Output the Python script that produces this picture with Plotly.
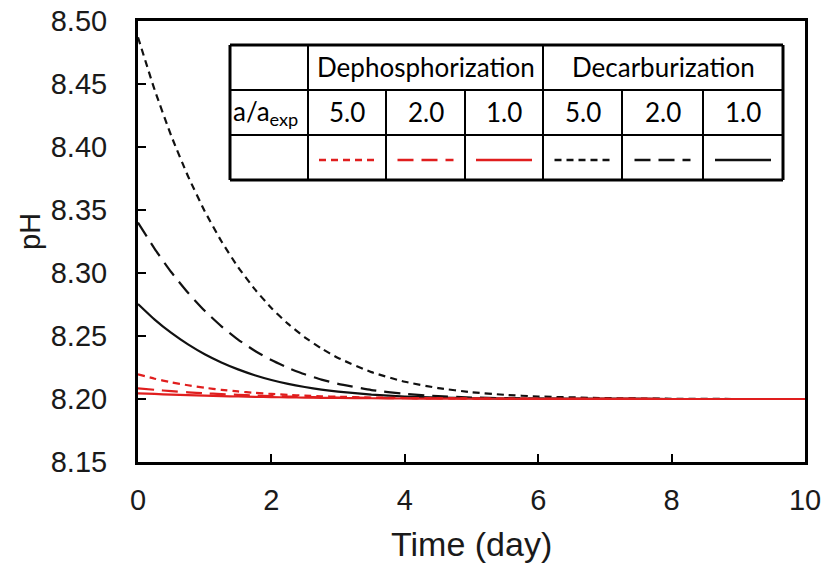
import plotly.graph_objects as go

# ---------------- data ----------------
time_day = [0, 0.25, 0.5, 0.75, 1, 1.25, 1.5, 1.75, 2, 2.25, 2.5, 2.75, 3,
            3.5, 4, 4.5, 5, 5.5, 6, 7, 8, 9, 10]

decarb_5 = [8.4871, 8.4453, 8.4087, 8.3768, 8.3491, 8.3252, 8.3047, 8.2872, 8.2722, 8.2596, 8.2490, 8.2401,
            8.2326, 8.2213, 8.2137, 8.2087, 8.2054, 8.2033, 8.2020, 8.2007, 8.2002, 8.2000, 8.2000]
decarb_2 = [8.3400, 8.3192, 8.3006, 8.2843, 8.2700, 8.2577, 8.2472, 8.2383, 8.2309, 8.2247, 8.2196, 8.2154,
            8.2120, 8.2071, 8.2041, 8.2023, 8.2012, 8.2007, 8.2003, 8.2001, 8.2000, 8.2000, 8.2000]
decarb_1 = [8.2754, 8.2630, 8.2524, 8.2433, 8.2355, 8.2290, 8.2235, 8.2189, 8.2151, 8.2120, 8.2095, 8.2074,
            8.2058, 8.2035, 8.2020, 8.2011, 8.2006, 8.2003, 8.2002, 8.2001, 8.2000, 8.2000, 8.2000]
dephos_5 = [8.2196, 8.2161, 8.2132, 8.2109, 8.2089, 8.2073, 8.2060, 8.2049, 8.2040, 8.2033, 8.2027, 8.2022,
            8.2018, 8.2012, 8.2008, 8.2006, 8.2004, 8.2003, 8.2002, 8.2001, 8.2000, 8.2000, 8.2000]
dephos_2 = [8.2085, 8.2073, 8.2062, 8.2053, 8.2045, 8.2039, 8.2033, 8.2028, 8.2024, 8.2020, 8.2017, 8.2014,
            8.2012, 8.2009, 8.2006, 8.2005, 8.2003, 8.2002, 8.2002, 8.2001, 8.2000, 8.2000, 8.2000]
dephos_1 = [8.2045, 8.2040, 8.2035, 8.2031, 8.2027, 8.2023, 8.2020, 8.2017, 8.2015, 8.2013, 8.2011, 8.2009,
            8.2008, 8.2006, 8.2004, 8.2003, 8.2002, 8.2002, 8.2001, 8.2001, 8.2000, 8.2000, 8.2000]

x_ticks = [0, 2, 4, 6, 8, 10]
y_ticks = [8.15, 8.20, 8.25, 8.30, 8.35, 8.40, 8.45, 8.50]
y_tick_labels = ["8.15", "8.20", "8.25", "8.30", "8.35", "8.40", "8.45", "8.50"]

group_labels = ["Dephosphorization", "Decarburization"]
ratio_header = "a/a<sub>exp</sub>"
ratio_labels = ["5.0", "2.0", "1.0", "5.0", "2.0", "1.0"]

# ---------------- styles ----------------
RED = "#e01e1e"
BLACK = "#111111"
SHORT = "7px,5px"
LONG = "16px,8px"

W, H = 827, 569
# plot area in page pixels
L, R, T, B = 138, 805, 21, 462

fig = go.Figure()

series = [
    (decarb_5, BLACK, SHORT),
    (decarb_2, BLACK, LONG),
    (decarb_1, BLACK, "solid"),
    (dephos_5, RED, SHORT),
    (dephos_2, RED, LONG),
    (dephos_1, RED, "solid"),
]
for ys, col, dash in series:
    fig.add_trace(go.Scatter(x=time_day, y=ys, mode="lines",
                             line=dict(color=col, width=2.2, dash=dash, shape="spline", smoothing=0.5),
                             showlegend=False, hoverinfo="skip"))


def px(xp):
    return (xp - L) / (R - L)


def py(yp):
    return (B - yp) / (B - T)


shapes = []
cols = [230, 308, 386, 465, 543, 622, 703, 783]
rows = [45, 90, 135, 180]
shapes.append(dict(type="rect", xref="paper", yref="paper", x0=px(cols[0]), x1=px(cols[-1]),
                   y0=py(rows[-1]), y1=py(rows[0]), fillcolor="white", line=dict(width=0), layer="above"))
for i, yv in enumerate(rows):
    w = 3 if i in (0, len(rows) - 1) else 2
    shapes.append(dict(type="line", xref="paper", yref="paper", x0=px(cols[0]), x1=px(cols[-1]),
                       y0=py(yv), y1=py(yv), line=dict(color="black", width=w), layer="above"))
for i, xv in enumerate(cols):
    w = 3 if i in (0, len(cols) - 1) else 2
    y_top = rows[0] if i in (0, 1, 4, 7) else rows[1]
    shapes.append(dict(type="line", xref="paper", yref="paper", x0=px(xv), x1=px(xv),
                       y0=py(rows[-1]), y1=py(y_top), line=dict(color="black", width=w), layer="above"))
sample_y = 160
sample_styles = [(RED, SHORT), (RED, LONG), (RED, "solid"), (BLACK, SHORT), (BLACK, LONG), (BLACK, "solid")]
for j, (col, dash) in enumerate(sample_styles):
    c0, c1 = cols[j + 1], cols[j + 2]
    mid = (c0 + c1) / 2
    shapes.append(dict(type="line", xref="paper", yref="paper", x0=px(mid - 28), x1=px(mid + 28),
                       y0=py(sample_y), y1=py(sample_y), line=dict(color=col, width=2.5, dash=dash),
                       layer="above"))

annotations = []
TFONT = dict(family="Lato, Open Sans, sans-serif", size=26, color="black")
annotations.append(dict(xref="paper", yref="paper", x=px((cols[1] + cols[4]) / 2), y=py(67),
                        text=group_labels[0], showarrow=False, font=TFONT, xanchor="center", yanchor="middle"))
annotations.append(dict(xref="paper", yref="paper", x=px((cols[4] + cols[7]) / 2), y=py(67),
                        text=group_labels[1], showarrow=False, font=TFONT, xanchor="center", yanchor="middle"))
annotations.append(dict(xref="paper", yref="paper", x=px(cols[0] + 1), y=py(113),
                        text=ratio_header, showarrow=False, font=TFONT, xanchor="left", yanchor="middle"))
for j, lab in enumerate(ratio_labels):
    c0, c1 = cols[j + 1], cols[j + 2]
    annotations.append(dict(xref="paper", yref="paper", x=px((c0 + c1) / 2), y=py(112),
                            text=lab, showarrow=False, font=TFONT, xanchor="center", yanchor="middle"))

annotations.append(dict(xref="paper", yref="paper", x=px(30), y=py(232), text="pH", textangle=-90,
                        showarrow=False,
                        font=dict(family="Liberation Sans, Arial, sans-serif", size=29, color="#1a1a1a"),
                        xanchor="center", yanchor="middle"))
annotations.append(dict(xref="paper", yref="paper", x=px(471), y=py(544), text="Time (day)",
                        showarrow=False,
                        font=dict(family="Liberation Sans, Arial, sans-serif", size=34, color="#1a1a1a"),
                        xanchor="center", yanchor="middle"))

TICKFONT = dict(family="Liberation Sans, Arial, sans-serif", size=29, color="#1a1a1a")
fig.update_layout(
    width=W, height=H,
    margin=dict(l=L, r=W - R, t=T, b=H - B, pad=0, autoexpand=False),
    paper_bgcolor="white", plot_bgcolor="white",
    shapes=shapes, annotations=annotations,
    xaxis=dict(range=[0, 10], tickvals=x_ticks, ticktext=[str(v) for v in x_ticks],
               ticks="inside", ticklen=8, tickwidth=1.5, tickcolor="black",
               showline=True, linecolor="black", linewidth=3, mirror=True,
               showgrid=False, zeroline=False, tickfont=TICKFONT, ticklabelstandoff=10,
               ticklabeloverflow="allow", automargin=False),
    yaxis=dict(range=[8.15, 8.50], tickvals=y_ticks, ticktext=y_tick_labels,
               ticks="inside", ticklen=8, tickwidth=1.5, tickcolor="black",
               showline=True, linecolor="black", linewidth=3, mirror=True,
               showgrid=False, zeroline=False, tickfont=TICKFONT, ticklabelstandoff=22,
               ticklabeloverflow="allow", automargin=False),
)

fig.write_html("out.html", config={"displayModeBar": False},
               post_script="document.body.style.margin='0px';")
